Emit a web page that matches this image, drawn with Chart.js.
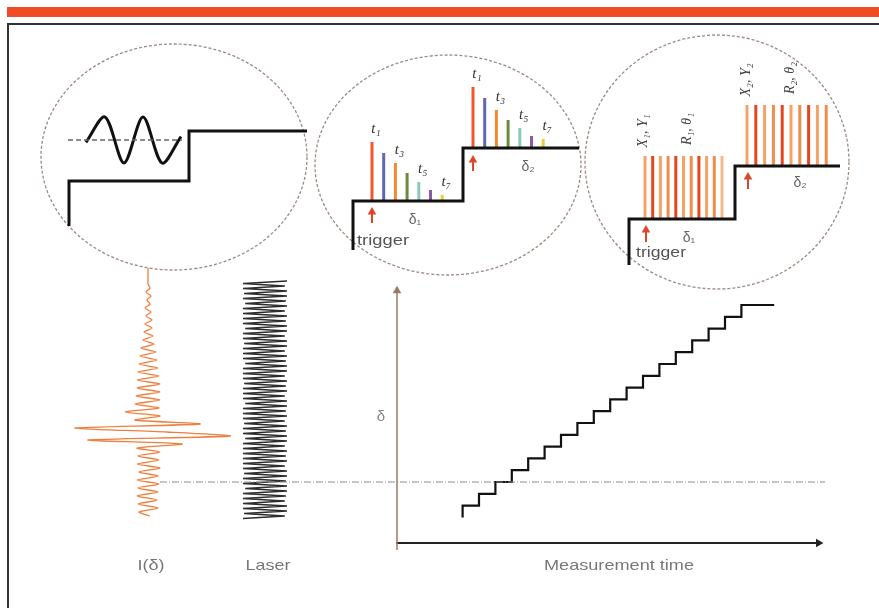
<!DOCTYPE html>
<html>
<head>
<meta charset="utf-8">
<script src="https://cdn.jsdelivr.net/npm/chart.js@4.4.1/dist/chart.umd.min.js"></script>
<style>
  html, body { margin: 0; padding: 0; background: #fff; }
  #wrap { position: relative; width: 879px; height: 608px; }
</style>
</head>
<body>
<div id="wrap"><canvas id="scheme" width="879" height="608"></canvas></div>
<script>
// STEP-SCAN STAIRCASE: dwell start (time units) and retardation level (steps)
const stepTimes = [4, 5, 6, 7, 8, 9, 10, 11, 12, 13, 14, 15, 16, 17, 18, 19, 20, 21, 22];
const stepDelta = [-3, -2, -1, 0, 1, 2, 3, 4, 5, 6, 7, 8, 9, 10, 11, 12, 13, 14, 15];
const stepEnd = 23;

// INTERFEROGRAM I(delta): one sample per half-fringe, top to bottom
const interferogram = [
  0, 0, 0, 0, 0,
  0.2, -0.2, 0.3, -0.1, 0.2, -0.3, 0.3, -0.2, 0.4, -0.3, 0.4,
  -0.4, 0.5, -0.5, 0.6, -0.7, 0.8, -0.8, 0.9, -0.9, 1.0, -1.0, 1.1, -1.1, 1.2, -1.1, 1.2, -1.2, 1.2, -1.3, 1.1, -2.3, 1.2,
  -1.3, 5.2, -7.3, 1.9, 8.2, -6.0, 3.4, -1.1,
  1.2, -1.0, 1.1, -1.1, 1.2, -0.9, 1.0, -1.1, 1.1, -1.0, 1.0, -1.1, 0.9, -1.0, 1.0, -0.9, 0.2
];

// HeNe LASER reference fringes
const laser = [
  1, -1, 0.9, -1, 1, -0.95, 1, -1, 0.95, -0.9, 1, -1,
  0.9, -1, 1, -1, 0.95, -1, 1, -0.9, 1, -1, 0.9, -1,
  1, -0.95, 1, -1, 0.9, -1, 1, -1, 0.95, -0.9, 1, -1,
  1, -1, 0.9, -1, 1, -0.95, 0.95, -1, 1, -1, 0.9, -1,
  1, -0.9, 1, -1, 0.95, -1, 1, -1, 0.9, -0.95, 1, -1,
  0.95, -1, 1, -0.9, 1, -1, 0.9, -1, 1, -1, 0.95, -1,
  1, -1, 0.9, -1, 1, -0.95, 1, -1, 0.95, -1, 1, -0.9,
  1, -1, 0.95, -1, 0.9, -1, 1, -1, 1, -0.95, 0.9, -1
];

// INSETS
const modWave = [-0.1, 1, -1, 1, -1, 0.15];                 // phase modulation
const trsSignal1 = [5.9, 4.8, 3.8, 2.8, 1.9, 1.1, 0.6];       // time-resolved, step 1
const trsSignal2 = [6.1, 5.0, 3.8, 2.8, 2.0, 1.2, 0.9];       // time-resolved, step 2
const trsLabels = ['t₁', '', 't₃', '', 't₅', '', 't₇'];
const lockinSignal1 = [6.3, 6.3, 6.3, 6.3, 6.3, 6.3, 6.3, 6.3, 6.3, 6.3, 6.3];
const lockinSignal2 = [6.1, 6.1, 6.1, 6.1, 6.1, 6.1, 6.1, 6.1, 6.1, 6.1];
const bottomLabels = ['I(δ)', 'Laser', 'Measurement time'];

const W = 879, H = 608;
const trsColors = ['#f0592a', '#5d68ad', '#f28a2e', '#6b8a3c', '#86cbb4', '#8c5aa6', '#e9cf3c'];
const lockinColors = ['#f4a266', '#e5461f', '#f4a266', '#f08c4c', '#e5461f', '#f4a266', '#f08c4c', '#e5461f', '#f4a266', '#f08c4c', '#f6b88a'];

function xScale(pxZero, ppu) { return { type: 'linear', display: false, offset: false, min: -pxZero / ppu, max: (W - pxZero) / ppu }; }
function yUp(pxZero, ppu) { return { type: 'linear', display: false, offset: false, min: -(H - pxZero) / ppu, max: pxZero / ppu }; }
function yDown(pxZero, ppu) { return { type: 'linear', display: false, offset: false, reverse: true, min: -pxZero / ppu, max: (H - pxZero) / ppu }; }

function line(data, xAxisID, yAxisID, style) {
  return Object.assign({ data, xAxisID, yAxisID, showLine: true, fill: false, pointRadius: 0, borderWidth: 1 }, style);
}
function arrow(data, xAxisID, yAxisID, color, width, rot) {
  return line(data, xAxisID, yAxisID, {
    borderColor: color, borderWidth: width,
    pointStyle: 'triangle', pointRadius: [0, 5], pointRotation: [0, rot],
    pointBackgroundColor: color, pointBorderColor: color, pointBorderWidth: 0
  });
}

const datasets = [];

// main plot
datasets.push(line([{ x: -14.45, y: 0 }, { x: 26.1, y: 0 }], 'xt', 'yd', { borderColor: '#8c8c8c', borderDash: [7, 2, 1, 2] }));
const stair = stepTimes.map((t, i) => ({ x: t, y: stepDelta[i] }));
stair.push({ x: stepEnd, y: stepDelta[stepDelta.length - 1] });
datasets.push(line(stair, 'xt', 'yd', { borderColor: '#111', borderWidth: 2.2, stepped: 'after' }));
datasets.push(arrow([{ x: 0, y: -5.76 }, { x: 0, y: 16.2 }], 'xt', 'yd', '#9a7a66', 1.5, 0));
datasets.push(arrow([{ x: -0.05, y: -5.17 }, { x: 25.7, y: -5.17 }], 'xt', 'yd', '#222', 2, 90));

// interferogram + laser
datasets.push(line(interferogram.map((v, i) => ({ x: v, y: i })), 'xi', 'yi', { borderColor: '#f07e3e', borderWidth: 1.3, tension: 0.25 }));
datasets.push(line(laser.map((v, i) => ({ x: v, y: i })), 'xl', 'yl', { borderColor: '#2e2e2e', borderWidth: 1.6 }));

// inset 1: phase modulation on a step
datasets.push(line([{ x: 68, y: 140 }, { x: 182, y: 140 }], 'x', 'y', { borderColor: '#666', borderDash: [5, 3], borderWidth: 1.5 }));
datasets.push(line(modWave.map((v, i) => ({ x: 86 + 19 * i, y: 140 - v * 23 })), 'x', 'y', { borderColor: '#111', borderWidth: 3, tension: 0.3 }));
datasets.push(line([{ x: 69, y: 226 }, { x: 69, y: 181 }, { x: 189, y: 181 }, { x: 189, y: 131 }, { x: 307, y: 131 }], 'x', 'y', { borderColor: '#111', borderWidth: 3 }));

// inset 2: time-resolved
datasets.push(line([{ x: 353, y: 250 }, { x: 353, y: 201 }, { x: 463, y: 201 }, { x: 463, y: 148 }, { x: 579, y: 148 }], 'x', 'y', { borderColor: '#111', borderWidth: 3 }));
[[trsSignal1, 372, 201], [trsSignal2, 473, 148]].forEach(([sig, x0, base]) => {
  sig.forEach((v, i) => {
    const x = x0 + 11.7 * i;
    datasets.push(line([{ x, y: base }, { x, y: base - v * 10 }], 'x', 'y', { borderColor: trsColors[i], borderWidth: 3 }));
  });
});
datasets.push(arrow([{ x: 372, y: 223 }, { x: 372, y: 212 }], 'x', 'y', '#e0452a', 2, 0));
datasets.push(arrow([{ x: 473, y: 171 }, { x: 473, y: 160 }], 'x', 'y', '#e0452a', 2, 0));

// inset 3: lock-in
datasets.push(line([{ x: 629, y: 265 }, { x: 629, y: 219 }, { x: 735, y: 219 }, { x: 735, y: 166 }, { x: 840, y: 166 }], 'x', 'y', { borderColor: '#111', borderWidth: 3 }));
[[lockinSignal1, 645, 7.7, 219], [lockinSignal2, 747, 8.8, 166]].forEach(([sig, x0, dx, base]) => {
  sig.forEach((v, i) => {
    const x = x0 + dx * i;
    datasets.push(line([{ x, y: base }, { x, y: base - v * 10 }], 'x', 'y', { borderColor: lockinColors[i], borderWidth: 3 }));
  });
});
datasets.push(arrow([{ x: 646, y: 242 }, { x: 646, y: 230 }], 'x', 'y', '#d9482c', 2, 0));
datasets.push(arrow([{ x: 748, y: 189 }, { x: 748, y: 177 }], 'x', 'y', '#d9482c', 2, 0));

const SANS = '"Liberation Sans", Arial, sans-serif';
const SERIF = '"Liberation Serif", "DejaVu Serif", serif';

// draws a label; if fitWidth is given the text is stretched horizontally to that width
function text(ctx, str, x, y, font, color, align, rot, fitWidth) {
  ctx.save();
  ctx.translate(x, y);
  if (rot) ctx.rotate(rot);
  ctx.font = font;
  ctx.fillStyle = color;
  ctx.textAlign = align || 'center';
  ctx.textBaseline = 'middle';
  if (fitWidth) ctx.scale(fitWidth / ctx.measureText(str).width, 1);
  ctx.fillText(str, 0, 0);
  ctx.restore();
}

const decor = {
  id: 'decor',
  beforeDatasetsDraw(chart) {
    const ctx = chart.ctx;
    ctx.save();
    // frame
    ctx.fillStyle = '#ef4c23';
    ctx.fillRect(7, 7, W - 7, 10);
    ctx.strokeStyle = '#333';
    ctx.lineWidth = 2;
    ctx.beginPath();
    ctx.moveTo(W, 24); ctx.lineTo(8, 24); ctx.lineTo(8, H);
    ctx.stroke();
    // magnifier circles
    ctx.strokeStyle = '#9b8a80';
    ctx.lineWidth = 1.3;
    ctx.setLineDash([3, 2]);
    [[174, 157, 133, 113], [448, 165, 133, 110], [717, 162, 132, 127]].forEach(([cx, cy, rx, ry]) => {
      ctx.beginPath();
      ctx.ellipse(cx, cy, rx, ry, 0, 0, Math.PI * 2);
      ctx.stroke();
    });
    ctx.restore();
  },
  afterDatasetsDraw(chart) {
    const ctx = chart.ctx;
    const tFont = 'italic 15px ' + SERIF;
    [[trsSignal1, 372, 201], [trsSignal2, 473, 148]].forEach(([sig, x0, base]) => {
      sig.forEach((v, i) => {
        if (trsLabels[i]) text(ctx, trsLabels[i], x0 + 11.7 * i + 4, base - v * 10 - 13, tFont, '#333');
      });
    });
    const gFont = '15px ' + SANS;
    text(ctx, 'trigger', 357, 241, gFont, '#555', 'left', 0, 52);
    text(ctx, 'trigger', 636, 253, gFont, '#555', 'left', 0, 50);
    text(ctx, 'δ₁', 415, 220, '14px ' + SANS, '#666');
    text(ctx, 'δ₂', 528, 167, '14px ' + SANS, '#666');
    text(ctx, 'δ₁', 689, 238, '14px ' + SANS, '#666');
    text(ctx, 'δ₂', 800, 183, '14px ' + SANS, '#666');
    const rFont = 'italic 14px ' + SERIF;
    text(ctx, 'X₁, Y₁', 643, 131, rFont, '#444', 'center', -Math.PI / 2);
    text(ctx, 'R₁, θ₁', 687, 129, rFont, '#444', 'center', -Math.PI / 2);
    text(ctx, 'X₂, Y₂', 746, 80, rFont, '#444', 'center', -Math.PI / 2);
    text(ctx, 'R₂, θ₂', 790, 78, rFont, '#444', 'center', -Math.PI / 2);
    const bFont = '15px ' + SANS;
    text(ctx, bottomLabels[0], 151, 566, bFont, '#777', 'center', 0, 27);
    text(ctx, bottomLabels[1], 268, 566, bFont, '#777', 'center', 0, 45);
    text(ctx, bottomLabels[2], 619, 566, bFont, '#777', 'center', 0, 150);
    text(ctx, 'δ', 381, 417, '15px ' + SANS, '#888');
  }
};

new Chart(document.getElementById('scheme'), {
  type: 'scatter',
  data: { datasets },
  options: {
    responsive: false,
    animation: false,
    events: [],
    layout: { padding: 0, autoPadding: false },
    elements: { point: { radius: 0 }, line: { borderCapStyle: 'butt' } },
    plugins: { legend: { display: false }, tooltip: { enabled: false } },
    scales: {
      x: xScale(0, 1), y: yDown(0, 1),
      xt: xScale(397, 16.4), yd: yUp(482, 11.8),
      xi: xScale(148, 10), yi: yDown(268, 4),
      xl: xScale(265, 22), yl: yDown(281, 2.5)
    }
  },
  plugins: [decor]
});
</script>
</body>
</html>
